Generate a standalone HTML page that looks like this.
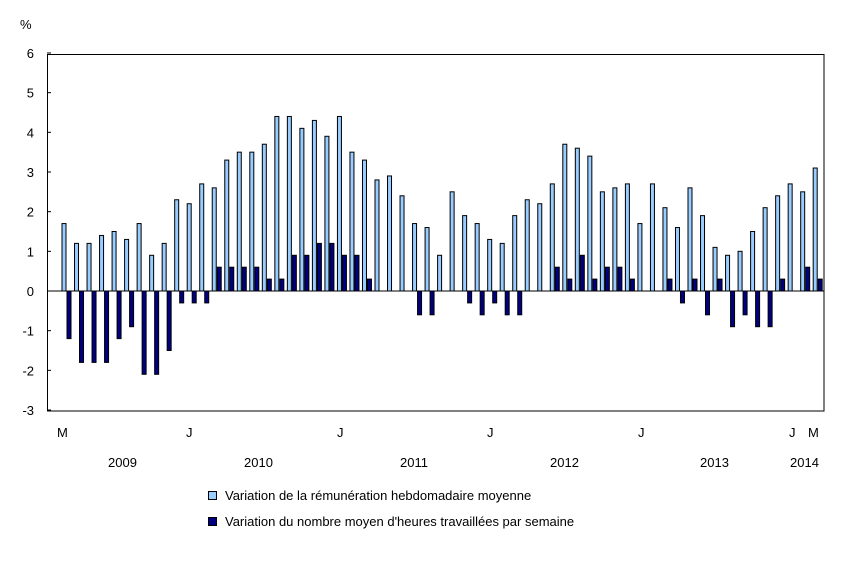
<!DOCTYPE html>
<html><head><meta charset="utf-8"><style>
body{margin:0;background:#fff;}
svg text{font-family:"Liberation Sans",Arial,sans-serif;font-size:13px;fill:#000;}
</style></head><body>
<svg id="s" width="855" height="570" xmlns="http://www.w3.org/2000/svg">
<text x="20" y="29">%</text>
<g id="yl"></g>
<g id="bars"></g>
<line x1="47" y1="291" x2="824" y2="291" stroke="#000" stroke-width="1"/>
<rect x="47.5" y="54.5" width="776.5" height="356.5" fill="none" stroke="#000" stroke-width="1"/>
<text x="57" y="437">M</text>
<text x="186" y="437">J</text>
<text x="337" y="437">J</text>
<text x="487" y="437">J</text>
<text x="638" y="437">J</text>
<text x="789" y="437">J</text>
<text x="808" y="437">M</text>
<text x="108" y="467">2009</text>
<text x="244" y="467">2010</text>
<text x="400" y="467">2011</text>
<text x="550" y="467">2012</text>
<text x="700" y="467">2013</text>
<text x="790" y="467">2014</text>
<rect x="208.5" y="491.5" width="8" height="8" fill="#99ccff" stroke="#000"/>
<text x="225" y="500">Variation de la rémunération hebdomadaire moyenne</text>
<rect x="208.5" y="517.5" width="8" height="8" fill="#000080" stroke="#000"/>
<text x="225" y="526">Variation du nombre moyen d'heures travaillées par semaine</text>
</svg>
<script>
var L=[1.7,1.2,1.2,1.4,1.5,1.3,1.7,0.9,1.2,2.3,2.2,2.7,2.6,3.3,3.5,3.5,3.7,4.4,4.4,4.1,4.3,3.9,4.4,3.5,3.3,2.8,2.9,2.4,1.7,1.6,0.9,2.5,1.9,1.7,1.3,1.2,1.9,2.3,2.2,2.7,3.7,3.6,3.4,2.5,2.6,2.7,1.7,2.7,2.1,1.6,2.6,1.9,1.1,0.9,1.0,1.5,2.1,2.4,2.7,2.5,3.1];
var D=[-1.2,-1.8,-1.8,-1.8,-1.2,-0.9,-2.1,-2.1,-1.5,-0.3,-0.3,-0.3,0.6,0.6,0.6,0.6,0.3,0.3,0.9,0.9,1.2,1.2,0.9,0.9,0.3,0,0,0,-0.6,-0.6,0,0,-0.3,-0.6,-0.3,-0.6,-0.6,0,0,0.6,0.3,0.9,0.3,0.6,0.6,0.3,0,0,0.3,-0.3,0.3,-0.6,0.3,-0.9,-0.6,-0.9,-0.9,0.3,0,0.6,0.3];
var ns="http://www.w3.org/2000/svg",g=document.getElementById("bars"),yl=document.getElementById("yl");
var z=291,k=39.67;
function r(x,v,f){if(!v)return;var e=document.createElementNS(ns,"rect");var y=v>0?z-v*k:z;e.setAttribute("x",x);e.setAttribute("y",y);e.setAttribute("width",4);e.setAttribute("height",Math.abs(v)*k);e.setAttribute("fill",f);e.setAttribute("stroke","#000");e.setAttribute("stroke-width","1");g.appendChild(e);}
for(var i=0;i<61;i++){var x=62+i*12.52;r(x,L[i],"#99ccff");r(x+5,D[i],"#000080");}
for(var v=-3;v<=6;v++){var y=z-v*k;var t=document.createElementNS(ns,"text");t.setAttribute("x",34);t.setAttribute("y",y+5);t.setAttribute("text-anchor","end");t.textContent=v;yl.appendChild(t);
var l=document.createElementNS(ns,"line");l.setAttribute("x1",47);l.setAttribute("x2",51);l.setAttribute("y1",y);l.setAttribute("y2",y);l.setAttribute("stroke","#000");yl.appendChild(l);}
</script>
</body></html>
